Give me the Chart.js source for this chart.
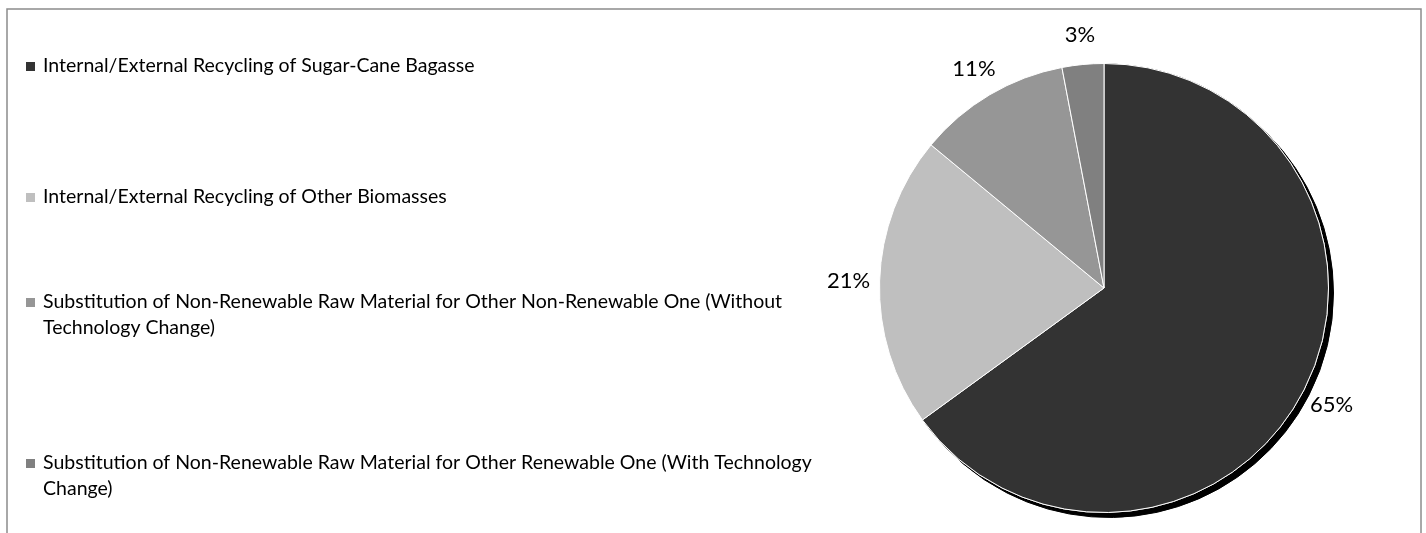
<!DOCTYPE html>
<html>
<head>
<meta charset="utf-8">
<script src="https://cdn.jsdelivr.net/npm/chart.js@4.4.1/dist/chart.umd.min.js"></script>
<style>
html,body{margin:0;padding:0;background:#ffffff;}
#wrap{width:1426px;height:533px;position:relative;overflow:hidden;}
canvas{display:block;}
</style>
</head>
<body>
<div id="wrap"><canvas id="c" width="1426" height="533"></canvas></div>
<script>
// ---- data ----
const categories = [
  "Internal/External Recycling of Sugar-Cane Bagasse",
  "Internal/External Recycling of Other Biomasses",
  "Substitution of Non-Renewable Raw Material for Other Non-Renewable One (Without Technology Change)",
  "Substitution of Non-Renewable Raw Material for Other Renewable One (With Technology Change)"
];
const values = [65, 21, 11, 3];
const colors = ["#333333", "#bfbfbf", "#969696", "#808080"];

const FONT = "Lato, 'Liberation Sans', sans-serif";

function wrapText(ctx, text, maxW){
  const words = text.split(' ');
  const lines = [];
  let cur = '';
  words.forEach(w => {
    const t = cur ? cur + ' ' + w : w;
    if (ctx.measureText(t).width > maxW && cur){ lines.push(cur); cur = w; }
    else cur = t;
  });
  if (cur) lines.push(cur);
  return lines;
}

const framePlugin = {
  id: 'frame',
  beforeDraw(chart){
    const ctx = chart.ctx;
    ctx.save();
    ctx.strokeStyle = '#8c8c8c';
    ctx.lineWidth = 1.5;
    ctx.strokeRect(7, 9, 1414, 600);
    ctx.restore();
  }
};

const shadowPlugin = {
  id: 'sliceShadow',
  beforeDatasetsDraw(chart){
    const meta = chart.getDatasetMeta(0);
    const el = meta.data[0];
    if (!el) return;
    const ctx = chart.ctx;
    ctx.save();
    ctx.shadowColor = '#000000';
    ctx.shadowOffsetX = 5;
    ctx.shadowOffsetY = 5;
    ctx.shadowBlur = 0;
    el.draw(ctx);
    ctx.restore();
  }
};

const labelPlugin = {
  id: 'pctLabels',
  afterDatasetsDraw(chart){
    const ctx = chart.ctx;
    const meta = chart.getDatasetMeta(0);
    ctx.save();
    ctx.font = `22px ${FONT}`;
    ctx.fillStyle = '#000000';
    ctx.textAlign = 'center';
    ctx.textBaseline = 'middle';
    meta.data.forEach((el, i) => {
      const p = el.getProps(['x','y','startAngle','endAngle','outerRadius'], true);
      const mid = (p.startAngle + p.endAngle) / 2;
      const d = p.outerRadius + 31;
      ctx.fillText(values[i] + '%', p.x + Math.cos(mid) * d, p.y + Math.sin(mid) * d + 1);
    });
    ctx.restore();
  }
};

const legendPlugin = {
  id: 'sideLegend',
  afterDraw(chart){
    const ctx = chart.ctx;
    ctx.save();
    ctx.font = `20px ${FONT}`;
    const ref = ctx.measureText(categories[0]).width;
    const size = 20 * 432 / ref;
    ctx.font = `${size}px ${FONT}`;
    ctx.textBaseline = 'middle';
    const firstLineY = [66, 197, 302, 463];
    const lineH = 26;
    categories.forEach((label, i) => {
      const lines = wrapText(ctx, label, 800);
      const y0 = firstLineY[i];
      ctx.fillStyle = colors[i];
      ctx.fillRect(26, y0 - 4, 9, 9);
      ctx.fillStyle = '#000000';
      lines.forEach((ln, j) => ctx.fillText(ln, 43, y0 + j * lineH));
    });
    ctx.restore();
  }
};

function build(){
  new Chart(document.getElementById('c'), {
    type: 'pie',
    data: {
      labels: categories,
      datasets: [{
        data: values,
        backgroundColor: colors,
        borderColor: '#ffffff',
        borderWidth: 1
      }]
    },
    options: {
      responsive: false,
      animation: false,
      layout: { padding: { left: 879, right: 97, top: 63, bottom: 20 } },
      plugins: { legend: { display: false }, tooltip: { enabled: false } }
    },
    plugins: [framePlugin, shadowPlugin, labelPlugin, legendPlugin]
  });
}
if (document.fonts && document.fonts.load) {
  document.fonts.load('20px Lato').then(build, build);
} else build();
</script>
</body>
</html>
